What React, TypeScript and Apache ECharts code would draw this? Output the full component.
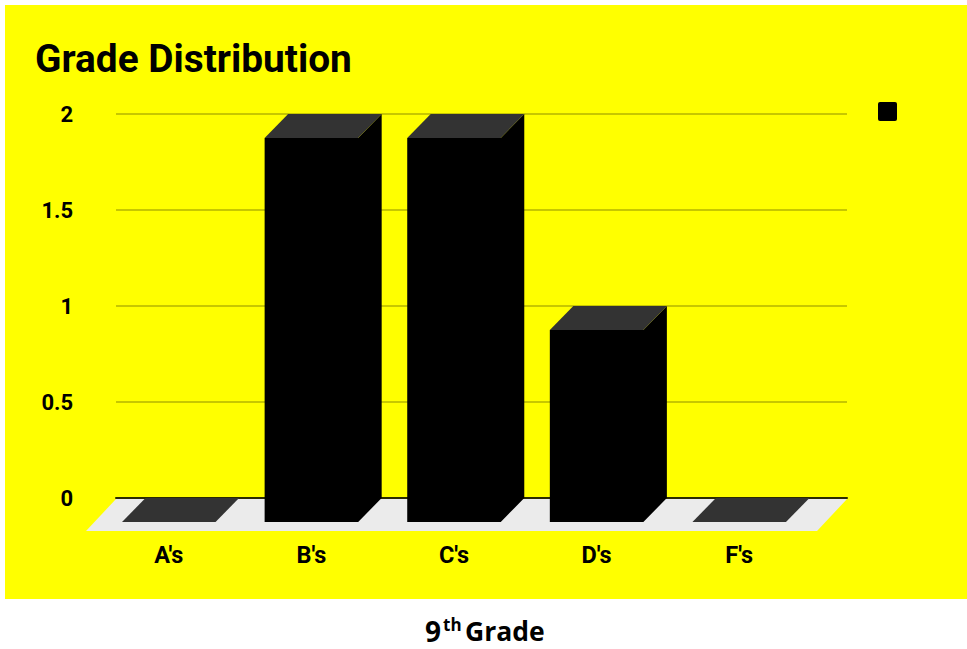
import React, { useEffect, useRef } from "react";
import * as echarts from "echarts";

const categories = ["A's", "B's", "C's", "D's", "F's"];
const gradeCounts = [0, 2, 2, 1, 0];
const yTicks = { min: 0, max: 2, interval: 0.5 };
const titleText = "Grade Distribution";

const DEPTH_X = 23.5;
const DEPTH_Y = 24;
const BAR_BAND_SHARE = 0.656;
const LEGEND_ICON = "path://M2 0H17Q19 0 19 2V17Q19 19 17 19H2Q0 19 0 17V2Q0 0 2 0Z";

function renderBar(_params: any, api: any) {
  const i = api.value(0);
  const v = api.value(1);
  const base = api.coord([i, 0]);
  const top = api.coord([i, v]);
  const w = api.size([1, 0])[0] * BAR_BAND_SHARE;
  const l = base[0] - w / 2;
  const r = base[0] + w / 2;
  const children: any[] = [];
  if (v > 0) {
    children.push({
      type: "polygon",
      shape: {
        points: [
          [l, base[1]],
          [r, base[1]],
          [r + DEPTH_X, base[1] - DEPTH_Y],
          [r + DEPTH_X, top[1] - DEPTH_Y],
          [r, top[1]],
          [l, top[1]],
        ],
      },
      style: { fill: "#000000" },
    });
  }
  children.push({
    type: "polygon",
    shape: { points: [[l, top[1]], [l + DEPTH_X, top[1] - DEPTH_Y], [r + DEPTH_X, top[1] - DEPTH_Y], [r, top[1]]] },
    style: { fill: "#333333" },
  });
  return { type: "group", children };
}

function renderFloor(params: any) {
  const c = params.coordSys;
  const y = c.y + c.height + 1;
  return {
    type: "polygon",
    shape: { points: [[c.x, y], [c.x + c.width, y], [c.x + c.width - 30, y + 32], [c.x - 30, y + 32]] },
    style: { fill: "#ebebeb" },
  };
}

export default function App() {
  const ref = useRef<HTMLDivElement>(null);
  useEffect(() => {
    document.body.style.margin = "0";
    document.body.style.background = "#ffffff";
    const chart = echarts.init(ref.current!, undefined, { renderer: "svg" });
    const captionFont = (size: number) => `bold ${size}px "Open Sans"`;
    chart.setOption({
      animation: false,
      backgroundColor: "#ffffff",
      textStyle: { fontFamily: "Roboto" },
      title: {
        text: titleText,
        left: 35,
        top: 37,
        padding: 0,
        textStyle: { fontFamily: "Roboto", fontWeight: "bold", fontSize: 38.8, color: "#000000", lineHeight: 43 },
      },
      legend: {
        left: 878,
        top: 102,
        padding: 0,
        itemWidth: 19,
        itemHeight: 19,
        icon: LEGEND_ICON,
        selectedMode: false,
        itemStyle: { color: "#000000" },
        data: [" "],
        textStyle: { fontSize: 1, color: "#000000" },
      },
      grid: [
        { left: 116, top: 114, width: 731, height: 384 },
        { left: 97.5, top: 138, width: 713, height: 384 },
      ],
      xAxis: [
        {
          type: "category",
          gridIndex: 0,
          data: categories,
          axisLine: { show: true, lineStyle: { color: "#2b2b00", width: 2 } },
          axisTick: { show: false },
          axisLabel: { show: false },
        },
        {
          type: "category",
          gridIndex: 1,
          data: categories,
          axisLine: { show: false },
          axisTick: { show: false },
          axisLabel: { fontFamily: "Roboto", fontWeight: "bold", fontSize: 23.5, color: "#000000", margin: 21 },
        },
      ],
      yAxis: [
        {
          type: "value",
          gridIndex: 0,
          ...yTicks,
          axisLine: { show: false },
          axisTick: { show: false },
          axisLabel: { fontFamily: "Roboto", fontWeight: "bold", fontSize: 22, color: "#000000", margin: 43, align: "right" },
          splitLine: { show: true, lineStyle: { color: "#b5b500", width: 1.5 } },
        },
        { type: "value", gridIndex: 1, ...yTicks, show: false, splitLine: { show: false } },
      ],
      graphic: [
        { type: "rect", z: -100, silent: true, shape: { x: 5, y: 5, width: 962, height: 594 }, style: { fill: "#ffff00" } },
        { type: "text", x: 425, y: 631, silent: true, style: { text: "9", font: captionFont(28), fill: "#000000", textVerticalAlign: "middle" } },
        { type: "text", x: 443, y: 624.5, silent: true, style: { text: "th", font: captionFont(17), fill: "#000000", textVerticalAlign: "middle" } },
        { type: "text", x: 465, y: 631, silent: true, style: { text: "Grade", font: captionFont(26.5), fill: "#000000", textVerticalAlign: "middle" } },
      ],
      series: [
        {
          type: "custom",
          xAxisIndex: 0,
          yAxisIndex: 0,
          z: 1,
          silent: true,
          renderItem: renderFloor,
          data: [[0, 0]],
          encode: { x: 0, y: 1 },
        },
        {
          type: "custom",
          name: " ",
          xAxisIndex: 1,
          yAxisIndex: 1,
          z: 3,
          clip: false,
          renderItem: renderBar,
          itemStyle: { color: "#000000" },
          data: gradeCounts.map((v, i) => [i, v]),
          encode: { x: 0, y: 1 },
        },
      ],
    });
    return () => chart.dispose();
  }, []);
  return <div ref={ref} style={{ width: 967, height: 649 }} />;
}
